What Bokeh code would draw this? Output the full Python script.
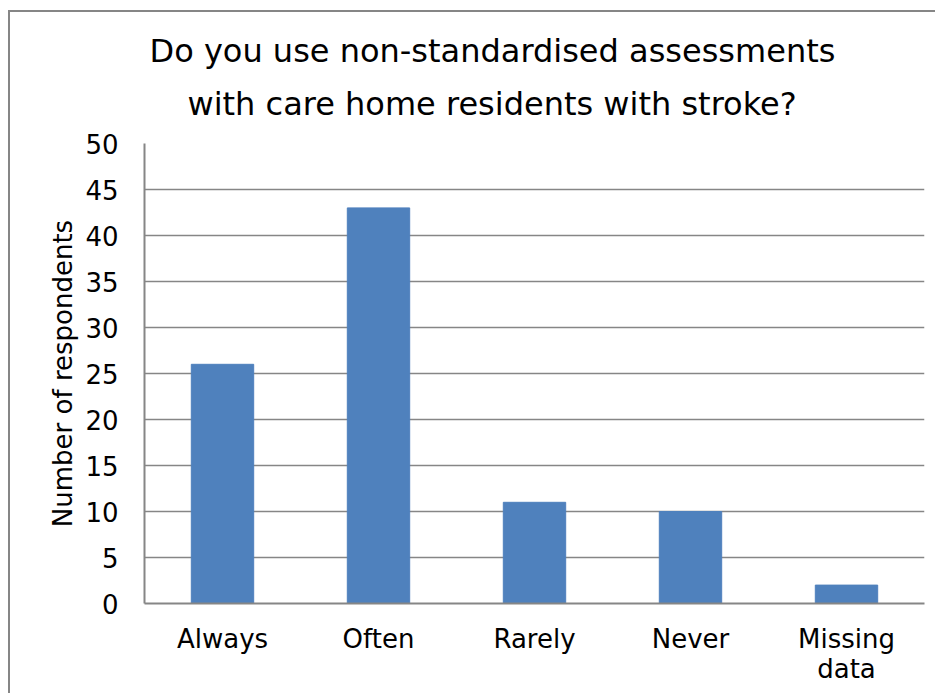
from bokeh.plotting import figure
from bokeh.models import FactorRange, FixedTicker, ColumnDataSource, Title
from bokeh.embed import file_html
from bokeh.resources import INLINE

categories = ["Always", "Often", "Rarely", "Never", "Missing\ndata"]
values = [26, 43, 11, 10, 2]
y_ticks = [0, 5, 10, 15, 20, 25, 30, 35, 40, 45, 50]
title_lines = ["Do you use non-standardised assessments",
               "with care home residents with stroke?"]
y_label = "Number of respondents"

FONT = "DejaVu Sans"
GRAY = "#868686"

src = ColumnDataSource(dict(cat=categories, val=values))

p = figure(
    x_range=FactorRange(*categories, range_padding=0),
    y_range=(0, 50),
    width=927, height=683,
    output_backend="svg", toolbar_location=None,
    min_border_left=134, min_border_right=13,
    min_border_top=131, min_border_bottom=92,
)

p.vbar(x="cat", top="val", width=0.4, source=src, color="#4F81BD")

p.title.visible = False
title_offsets = [5, 43]
title_standoffs = [-14, 41]
for i in (1, 0):
    t = Title(text=title_lines[i], text_font=FONT, text_font_size="32px",
              text_font_style="normal", text_color="#000000",
              align="left", offset=title_offsets[i],
              standoff=title_standoffs[i], text_line_height=0.8)
    p.add_layout(t, "above")

p.outline_line_color = None
p.background_fill_color = "white"
p.border_fill_color = "white"

p.xgrid.grid_line_color = None
p.ygrid.grid_line_color = GRAY
p.ygrid.grid_line_width = 1.5

p.yaxis.ticker = FixedTicker(ticks=y_ticks)
for ax in (p.xaxis[0], p.yaxis[0]):
    ax.axis_line_color = GRAY
    ax.axis_line_width = 2
    ax.major_tick_line_color = None
    ax.minor_tick_line_color = None
    ax.major_label_text_font = FONT
    ax.major_label_text_font_size = "26px"
    ax.major_label_text_color = "#000000"

p.yaxis.major_label_standoff = 20
p.yaxis.axis_label = y_label
p.yaxis.axis_label_text_font = FONT
p.yaxis.axis_label_text_font_size = "26px"
p.yaxis.axis_label_text_font_style = "normal"
p.yaxis.axis_label_text_color = "#000000"
p.yaxis.axis_label_standoff = 4

p.xaxis.major_label_standoff = 14
p.xaxis.major_label_text_line_height = 1.0

p.styles = {"margin-left": "8px", "margin-top": "10px",
            "border-left": "2px solid " + GRAY, "border-top": "2px solid " + GRAY}

open("out.html", "w").write(file_html(p, INLINE))
